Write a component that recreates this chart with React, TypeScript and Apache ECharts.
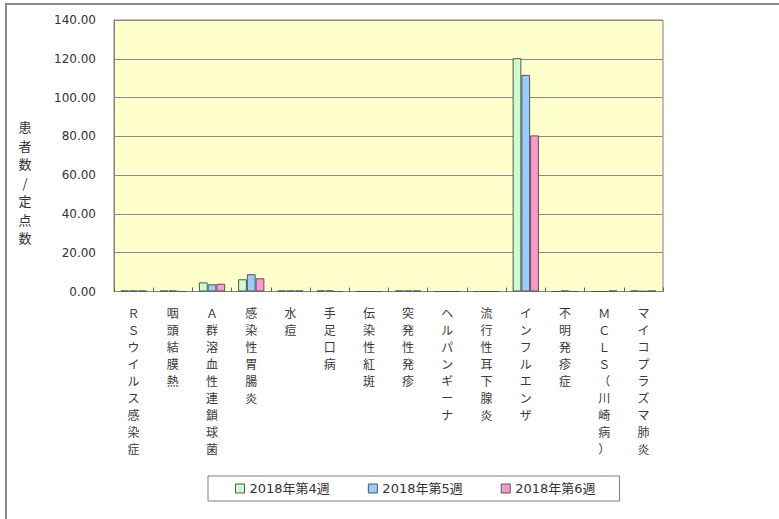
import React, { useEffect, useRef } from "react";
import * as echarts from "echarts";

const categories = [
  "ＲＳウイルス感染症",
  "咽頭結膜熱",
  "Ａ群溶血性連鎖球菌",
  "感染性胃腸炎",
  "水痘",
  "手足口病",
  "伝染性紅斑",
  "突発性発疹",
  "ヘルパンギーナ",
  "流行性耳下腺炎",
  "インフルエンザ",
  "不明発疹症",
  "ＭＣＬＳ（川崎病）",
  "マイコプラズマ肺炎",
];
const seriesNames = ["2018年第4週", "2018年第5週", "2018年第6週"];
const week4 = [0.5, 0.5, 4.7, 6.3, 0.5, 0.5, 0, 0.5, 0, 0, 120.3, 0, 0, 0.5];
const week5 = [0.5, 0.5, 3.7, 8.9, 0.5, 0.5, 0, 0.5, 0, 0, 111.7, 0.5, 0, 0.2];
const week6 = [0.5, 0, 4.0, 6.8, 0.5, 0, 0, 0.5, 0, 0, 80.5, 0, 0.5, 0.5];
const yTicks = [0, 20, 40, 60, 80, 100, 120, 140];
const yAxisTitle = "患者数/定点数";

const colors = ["#ccffcc", "#99ccff", "#ff99cc"];
const FONT = "'DejaVu Sans', 'Noto Sans CJK JP', sans-serif";
const CJK = "'Noto Sans CJK JP', 'DejaVu Sans', sans-serif";

export default function App() {
  const ref = useRef<HTMLDivElement>(null);
  useEffect(() => {
    if (!ref.current) return;
    const chart = echarts.init(ref.current, null, { renderer: "svg" });
    const data = [week4, week5, week6];
    chart.setOption({
      animation: false,
      backgroundColor: "#ffffff",
      grid: {
        left: 114,
        top: 20,
        right: 116,
        bottom: 227.5,
        show: true,
        backgroundColor: "#ffffcc",
        borderColor: "#808080",
        borderWidth: 1,
      },
      legend: {
        left: 208,
        top: 476,
        orient: "horizontal",
        data: seriesNames,
        icon: "rect",
        itemWidth: 9,
        itemHeight: 9,
        itemGap: 38,
        padding: [6, 24, 6, 27],
        borderColor: "#808080",
        borderWidth: 1,
        textStyle: { fontSize: 13, color: "#333", fontFamily: FONT },
        itemStyle: { borderColor: "#555", borderWidth: 1 },
      },
      xAxis: {
        type: "category",
        data: categories,
        axisLine: { lineStyle: { color: "#808080" } },
        axisTick: { show: true, inside: true, length: 4, lineStyle: { color: "#606060" } },
        axisLabel: {
          interval: 0,
          fontSize: 12,
          lineHeight: 17,
          margin: 12,
          color: "#3a3a3a",
          fontFamily: CJK,
          formatter: (v: string) => Array.from(v).join("\n"),
        },
      },
      yAxis: {
        type: "value",
        min: 0,
        max: 140,
        interval: 20,
        axisLine: { show: true, lineStyle: { color: "#808080" } },
        axisTick: { show: false },
        splitLine: { lineStyle: { color: "#8a8a8a", width: 1 } },
        axisLabel: {
          fontSize: 12,
          margin: 18,
          color: "#333",
          fontFamily: FONT,
          customValues: yTicks,
          formatter: (v: number) => v.toFixed(2),
        },
      },
      series: seriesNames.map((name, i) => ({
        name,
        type: "bar",
        data: data[i],
        barGap: "0%",
        barCategoryGap: "33%",
        itemStyle: { color: colors[i], borderColor: "#555", borderWidth: 1 },
      })),
      graphic: [
        {
          type: "rect",
          silent: true,
          shape: { x: 6, y: 4, width: 800, height: 540 },
          style: { fill: "none", stroke: "#8c8c8c", lineWidth: 2 },
        },
        {
          type: "text",
          x: 25,
          y: 182,
          style: {
            text: Array.from(yAxisTitle).join("\n"),
            fontSize: 13,
            lineHeight: 18.5,
            fontFamily: CJK,
            fill: "#333",
            textAlign: "center",
            textVerticalAlign: "middle",
          },
        },
      ],
    });
    return () => chart.dispose();
  }, []);
  return (
    <div
      ref={ref}
      style={{ position: "absolute", left: 0, top: 0, width: 779, height: 519 }}
    />
  );
}
